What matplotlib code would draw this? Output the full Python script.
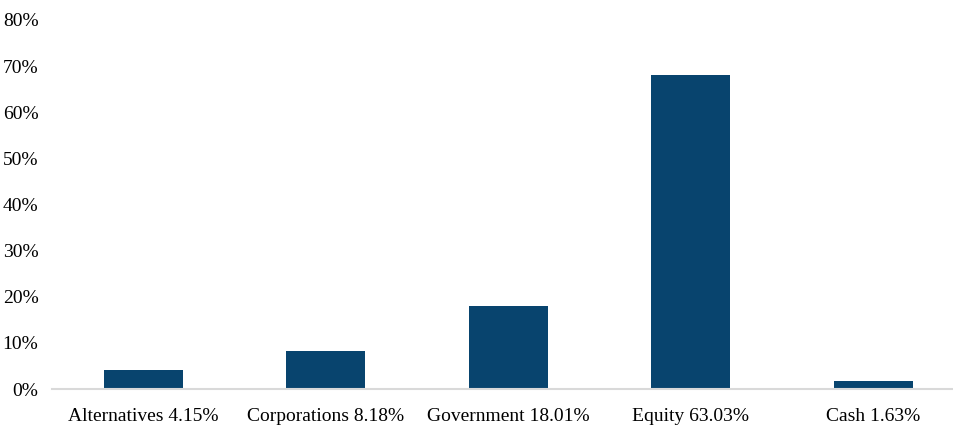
import matplotlib
matplotlib.use("Agg")
import matplotlib.pyplot as plt
from matplotlib.ticker import FuncFormatter

categories = ["Alternatives", "Corporations", "Government", "Equity", "Cash"]
label_pcts = ["4.15%", "8.18%", "18.01%", "63.03%", "1.63%"]
bar_values = [4.15, 8.18, 18.01, 68.0, 1.63]
y_ticks = [0, 10, 20, 30, 40, 50, 60, 70, 80]

plt.rcParams['font.family'] = ['Liberation Serif', 'DejaVu Serif']

fig = plt.figure(figsize=(9.54, 4.28), dpi=100)
ax = fig.add_axes([52.3/954, 39/428, 912/954, 369/428])

x = list(range(len(categories)))
ax.bar(x, bar_values, width=0.433, color="#08446E", zorder=2)
ax.set_xlim(-0.5, len(categories) - 0.5)
ax.set_ylim(0, 80)
ax.set_yticks(y_ticks)
ax.yaxis.set_major_formatter(FuncFormatter(lambda v, p: f"{int(v)}%"))
ax.set_xticks(x)
ax.set_xticklabels([f"{c} {p}" for c, p in zip(categories, label_pcts)])

for s in ["top", "right", "left"]:
    ax.spines[s].set_visible(False)
ax.spines["bottom"].set_color("#D9D9D9")
ax.spines["bottom"].set_linewidth(1.5)
ax.tick_params(axis="both", length=0, labelsize=14, colors="#000000")
ax.tick_params(axis="y", pad=10)
ax.tick_params(axis="x", pad=14)

fig.savefig("out.png", dpi=100)
